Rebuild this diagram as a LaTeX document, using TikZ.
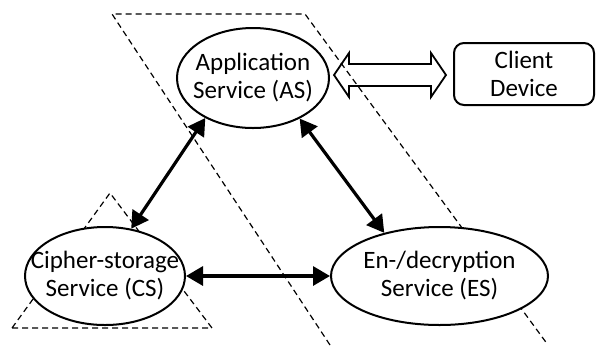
\documentclass[tikz,border=0pt]{standalone}
\usepackage{fontspec}
\setmainfont{Carlito}
\usepackage{tikz}
\usetikzlibrary{arrows.meta,positioning,shapes.geometric}
\usepackage{xcolor}
\definecolor{dark}{HTML}{000000}
\tikzset{
  svc/.style={draw=dark, ellipse, line width=1pt, fill=white, align=center, inner xsep=-10pt, inner ysep=-4pt, font=\fontsize{12.5}{14}\selectfont},
  devbox/.style={draw=dark, rounded corners=5pt, line width=1pt, fill=white, align=center, inner sep=0pt, font=\fontsize{12.5}{14}\selectfont},
  arrow/.style={{Triangle[length=8.5pt,width=9.5pt]}-{Triangle[length=8.5pt,width=9.5pt]}, line width=1.6pt, draw=dark},
  zone/.style={draw=dark, line width=0.6pt, dash pattern=on 3pt off 2pt},
  hollow/.style={draw=dark, line width=0.9pt, line join=miter}
}

\begin{document}
\begin{tikzpicture}[x=0.5pt, y=-0.5pt]
  \useasboundingbox (0,0) rectangle (596,345);
  % trust zones
  \draw[zone] (330,345) -- (112,14) -- (305,14) -- (548,345);
  \draw[zone] (12,328) -- (110,193) -- (212,328) -- cycle;
  \node[svc, minimum width=76pt, minimum height=50pt] (as) at (253,78) {Application\\Service (AS)};
  \node[svc, minimum width=80pt, minimum height=49pt] (cs) at (105,276) {Cipher-storage\\Service (CS)};
  \node[svc, minimum width=108.5pt, minimum height=49pt] (es) at (439.5,276) {En-/decryption\\Service (ES)};
  \node[devbox, minimum width=70pt, minimum height=31pt] (client) at (524,74) {Client\\Device};
  \draw[arrow] (as.-140) -- (cs.61);
  \draw[arrow] (as.-41) -- (es.142);
  \draw[arrow] (cs) -- (es);
  % link to the client
  \draw[hollow] (334,75) -- (349,53) -- (349,64) -- (431,64) -- (431,53) -- (446,75)
    -- (431,97) -- (431,86) -- (349,86) -- (349,97) -- cycle;
\end{tikzpicture}
\end{document}
